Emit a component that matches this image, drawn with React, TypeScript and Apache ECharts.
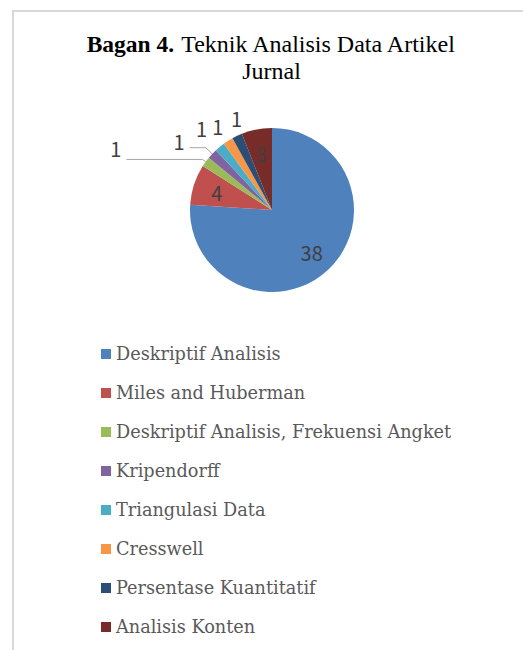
import React, { useEffect, useRef } from "react";
import * as echarts from "echarts";

const categories = [
  "Deskriptif Analisis",
  "Miles and Huberman",
  "Deskriptif Analisis, Frekuensi Angket",
  "Kripendorff",
  "Triangulasi Data",
  "Cresswell",
  "Persentase Kuantitatif",
  "Analisis Konten",
];
const values = [38, 4, 1, 1, 1, 1, 1, 3];
const colors = ["#4F81BD", "#C0504D", "#9BBB59", "#8064A2", "#4BACC6", "#F79646", "#2C4D75", "#772C2A"];

// label placement tweaks for the small outside labels (by index)
const outsideLabel: Record<number, any> = {
  2: { line: true, length: 4, length2: 76, dist: 5, lift: 22 },
  3: { line: true, length: 9, length2: 16, dist: 5, lift: 12 },
  4: { line: false, length: 24, length2: 0, dist: -2.7, lift: 0 },
  5: { line: false, length: 17, length2: 0, dist: -4.5, lift: 0 },
  6: { line: false, length: 19, length2: 0, dist: -13.2, lift: 0 },
};
const insideLabelIdx = [0, 1, 7];

const labelFont = {
  fontFamily: "'Noto Sans CJK JP', 'Noto Sans', sans-serif",
  fontSize: 20,
  color: "#404040",
};

const serif = "Liberation Serif";

export default function App() {
  const ref = useRef<HTMLDivElement>(null);
  useEffect(() => {
    if (!ref.current) return;
    const chart = echarts.init(ref.current, null, { renderer: "svg" });
    const mainData = categories.map((name, i) => {
      const o = outsideLabel[i];
      return {
        name,
        value: values[i],
        itemStyle: { color: colors[i] },
        label: o
          ? {
              show: true,
              position: "outside",
              distanceToLabelLine: o.dist,
              formatter: o.lift ? "{v|{c}}\n{s|}" : "{v|{c}}",
              rich: {
                v: { ...labelFont, lineHeight: 22 },
                s: { fontSize: 1, lineHeight: o.lift || 1 },
              },
            }
          : { show: false },
        labelLine: o
          ? {
              show: o.line,
              length: o.length,
              length2: o.length2,
              smooth: false,
              lineStyle: { color: "#A6A6A6", width: 1 },
            }
          : { show: false },
      };
    });
    const overlayData = categories.map((name, i) => ({
      name,
      value: values[i],
      itemStyle: { color: "rgba(0,0,0,0)" },
      label: { show: insideLabelIdx.includes(i) },
    }));
    chart.setOption({
      animation: false,
      title: {
        left: 266.5,
        top: 25,
        textAlign: "center",
        text: "{b|Bagan 4.}{n| Teknik Analisis Data Artikel}\n{n|Jurnal}",
        textStyle: {
          fontFamily: serif,
          fontSize: 24,
          fontWeight: "normal",
          color: "#000",
          rich: {
            b: { fontFamily: serif, fontSize: 23.5, fontWeight: "bold", color: "#000", lineHeight: 27 },
            n: { fontFamily: serif, fontSize: 24, fontWeight: "normal", color: "#000", lineHeight: 27 },
          },
        },
      },
      legend: {
        orient: "vertical",
        left: 96,
        top: 339,
        itemWidth: 10,
        itemHeight: 10,
        itemGap: 19,
        icon: "rect",
        data: categories.map((name, i) => ({ name, itemStyle: { color: colors[i] } })),
        textStyle: {
          fontFamily: "'DejaVu Serif', serif",
          fontSize: 17.7,
          color: "#595959",
          lineHeight: 20,
        },
      },
      graphic: [
        {
          type: "rect",
          shape: { x: 13, y: 11, width: 600, height: 700 },
          style: { fill: "none", stroke: "#D9D9D9", lineWidth: 2 },
          silent: true,
        },
      ],
      series: [
        {
          type: "pie",
          center: [272, 210],
          radius: [0, 82],
          startAngle: 90,
          clockwise: true,
          avoidLabelOverlap: false,
          itemStyle: { borderWidth: 0 },
          label: { ...labelFont, formatter: "{c}" },
          emphasis: { disabled: true },
          data: mainData,
        },
        {
          type: "pie",
          center: [272, 210],
          radius: [0, 110],
          startAngle: 90,
          clockwise: true,
          silent: true,
          avoidLabelOverlap: false,
          itemStyle: { borderWidth: 0 },
          label: { ...labelFont, position: "inside", formatter: "{c}" },
          labelLine: { show: false },
          emphasis: { disabled: true },
          data: overlayData,
        },
      ],
    });
    return () => chart.dispose();
  }, []);
  return (
    <div
      ref={ref}
      style={{ position: "absolute", left: 0, top: 0, width: 523, height: 650, background: "#fff" }}
    />
  );
}
